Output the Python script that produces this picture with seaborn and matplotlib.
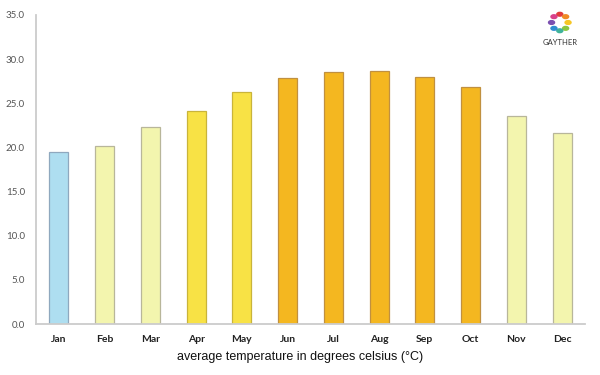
import matplotlib
matplotlib.use("Agg")
import matplotlib.pyplot as plt
import seaborn as sns
import pandas as pd
import numpy as np

months = ["Jan", "Feb", "Mar", "Apr", "May", "Jun", "Jul", "Aug", "Sep", "Oct", "Nov", "Dec"]
temps = [19.5, 20.2, 22.3, 24.1, 26.3, 27.9, 28.6, 28.7, 28.0, 26.8, 23.6, 21.6]
colors = ["#AEDEF0", "#F3F5AE", "#F3F5AE", "#F8E245", "#F8E245", "#F4B720",
          "#F4B720", "#F4B720", "#F4B720", "#F4B720", "#F3F5AE", "#F3F5AE"]
edges = ["#8FA8BE", "#B8B69A", "#B8B69A", "#C9B43A", "#C9B43A", "#C09040",
         "#C09040", "#C09040", "#C09040", "#C09040", "#B8B69A", "#B8B69A"]
yticks = [0, 5, 10, 15, 20, 25, 30, 35]

sns.set_style("white")
plt.rcParams['font.family'] = ['Lato', 'DejaVu Sans']

df = pd.DataFrame({"month": months, "temp": temps})
fig = plt.figure(figsize=(6, 3.75), dpi=100)
ax = fig.add_axes([0.06, 0.136, 0.915, 0.824])
sns.barplot(data=df, x="month", y="temp", hue="month", palette=colors,
            legend=False, width=0.42, ax=ax, saturation=1)
for p, ec in zip(ax.patches, edges):
    p.set_edgecolor(ec)
    p.set_linewidth(0.9)

ax.set_xlim(-0.5, 11.5)
ax.set_ylim(0, 35)
ax.set_yticks(yticks)
ax.set_yticklabels([f"{v:.1f}" for v in yticks], color="#555555", fontsize=7)
ax.tick_params(axis="y", length=0, pad=8)
ax.tick_params(axis="x", length=0, pad=8, labelsize=7.5, labelcolor="#222222")
for lbl in ax.get_xticklabels():
    lbl.set_fontweight("bold")
ax.set_xlabel("")
ax.set_ylabel("")
for s in ["top", "right"]:
    ax.spines[s].set_visible(False)
for s in ["left", "bottom"]:
    ax.spines[s].set_color("#CCCCCC")
    ax.spines[s].set_linewidth(1.3)

fig.text(0.5, 0.048, "average temperature in degrees celsius (°C)", ha="center",
         va="center", fontsize=9, color="#111111", family=["Liberation Sans", "DejaVu Sans"])

# logo
cx, cy, r = 0.933, 0.94, 0.022
logo_cols = ["#E23B3B", "#F08A24", "#F6C623", "#8CC63F", "#3FB39A", "#2F8FD0", "#7A4FB0", "#D9418A"]
for i, c in enumerate(logo_cols):
    a = np.pi / 2 - i * 2 * np.pi / len(logo_cols)
    fig.patches.append(matplotlib.patches.Circle((cx + r * np.cos(a) * 0.625, cy + r * np.sin(a)),
                                                 0.005, transform=fig.transFigure, color=c, figure=fig))
fig.text(cx, 0.887, "GAYTHER", ha="center", va="center", fontsize=5.5, color="#333333")

fig.savefig("out.png", dpi=100, facecolor="white")
